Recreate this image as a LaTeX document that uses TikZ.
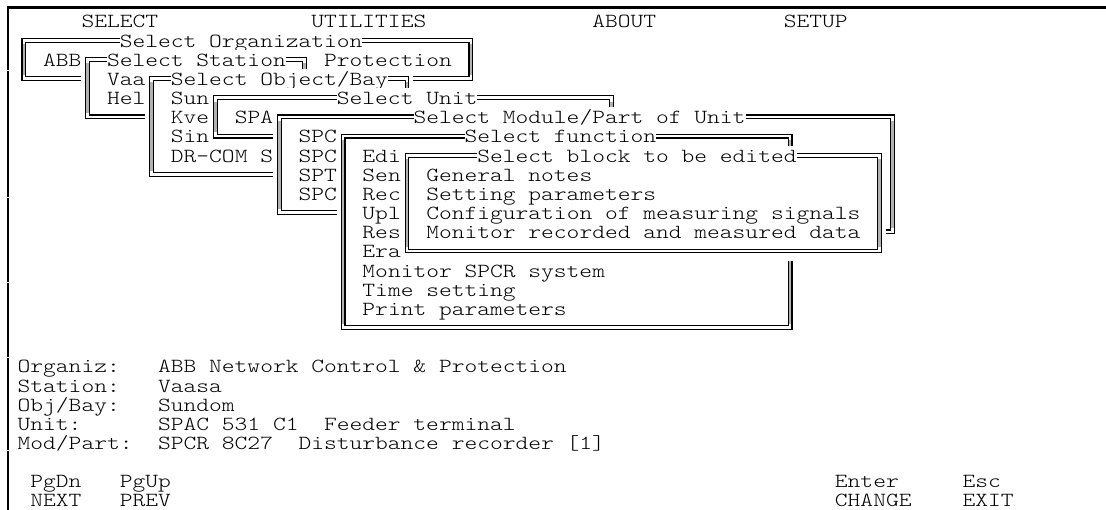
\documentclass[tikz,border=0pt]{standalone}
\usepackage{fontspec}
\newfontfamily\monofam{lmmonolt10-regular.otf}[FakeStretch=1.216]
\newcommand{\scrmono}{\monofam\fontsize{20pt}{24pt}\selectfont}
\frenchspacing

% text window: name, first col, last col, top row, bottom row, title col, title
\newcommand{\tuiwin}[7]{%
  \fill[white] (#2,#4-0.5) rectangle (#3+1,#5+0.5);
  \draw[win frame] (#2+0.5,#4) rectangle (#3+0.5,#5);
  \draw[win side] (#2+0.5,#4+0.2) -- (#2+0.5,#5-0.2);
  \draw[win side] (#3+0.5,#4+0.2) -- (#3+0.5,#5-0.2);
  \node[win title] (#1) at (#6,#4+0.36) {#7};
}

\begin{document}
\begin{tikzpicture}[
    x=12.77pt, y=-19.16pt,
    scr/.style={font=\scrmono, inner sep=0pt, anchor=base west},
    win frame/.style={double, double distance=2.6pt, line width=1.15pt},
    win side/.style={gray!60, line width=2.6pt},
    win title/.style={scr, fill=white, text height=12pt, text depth=4pt}
  ]
  \useasboundingbox (0pt,0pt) rectangle (1106pt,-510pt);

  % screen edge
  \coordinate (edgeBL) at (8pt,-510pt);
  \coordinate (edgeTL) at (8pt,-7.5pt);
  \coordinate (edgeTR) at (1106pt,-7.5pt);
  \draw[line width=2.6pt] (edgeBL) -- (edgeTL) -- (edgeTR);
  \foreach \g in {70,197,282,357,450}
    \fill[white] (6pt,-\g pt) rectangle ++(4pt,-1.5pt);

  \begin{scope}[shift={(4.7pt,-21.1pt)}]

    % menu bar
    \node[scr] (menuSelect) at (6,0.36) {SELECT};
    \node[scr] (menuUtil) at (24,0.36) {UTILITIES};
    \node[scr] (menuAbout) at (46,0.36) {ABOUT};
    \node[scr] (menuSetup) at (61,0.36) {SETUP};

    % stacked selection windows
    \tuiwin{org}{1}{36}{1}{3}{9}{Select Organization}
    \node[scr] (orgName) at (3,2.36) {ABB};
    \node[scr] (orgTail) at (25,2.36) {Protection};

    \tuiwin{station}{6}{23}{2}{5}{8}{Select Station}
    \node[scr] (stnA) at (8,3.36) {Vaa};
    \node[scr] (stnB) at (8,4.36) {Hel};

    \tuiwin{bay}{11}{31}{3}{8}{13}{Select Object/Bay}
    \foreach \t [count=\i from 4] in {Sun,Kve,Sin,DR-COM S}
      \node[scr] (bay\i) at (13,\i+0.36) {\t};

    \tuiwin{unit}{16}{47}{4}{6}{26}{Select Unit}
    \node[scr] (unitA) at (18,5.36) {SPA};

    % module window: right edge runs one row lower than the left one
    \fill[white] (21,4.5) rectangle (70,10.5);
    \fill[white] (69,10.5) rectangle (70,11.5);
    \draw[win frame] (30,10) -- (21.5,10) -- (21.5,5) -- (69.5,5) -- (69.5,11) -- (30,11);
    \draw[win side] (21.5,5.2) -- (21.5,9.8);
    \draw[win side] (69.5,5.2) -- (69.5,10.8);
    \node[win title] (module) at (32,5.36) {Select Module/Part of Unit};
    \foreach \t [count=\i from 6] in {SPC,SPC,SPT,SPC}
      \node[scr] (mod\i) at (23,\i+0.36) {\t};

    \tuiwin{func}{26}{61}{6}{16}{36}{Select function}
    \foreach \t [count=\i from 7] in {Edi,Sen,Rec,Upl,Res,Era,Monitor SPCR system,Time setting,Print parameters}
      \node[scr] (func\i) at (28,\i+0.36) {\t};

    \tuiwin{block}{31}{68}{7}{12}{37}{Select block to be edited}
    \foreach \t [count=\i from 8] in {General notes,Setting parameters,Configuration of measuring signals,Monitor recorded and measured data}
      \node[scr] (block\i) at (33,\i+0.36) {\t};

    % status lines
    \foreach \lab/\val [count=\i from 18] in {{Organiz:}/{ABB Network Control \& Protection},{Station:}/{Vaasa},{Obj/Bay:}/{Sundom},{Unit:}/{SPAC 531 C1~~Feeder terminal},{Mod/Part:}/{SPCR 8C27~~Disturbance recorder [1]}} {
      \node[scr] (lab\i) at (1,\i+0.36) {\lab};
      \node[scr] (val\i) at (12,\i+0.36) {\val};
    }

    % key line
    \node[scr] (keyDn) at (2,24.36) {PgDn};
    \node[scr] (keyUp) at (9,24.36) {PgUp};
    \node[scr] (keyEnter) at (65,24.36) {Enter};
    \node[scr] (keyEsc) at (75,24.36) {Esc};
    \node[scr] (actNext) at (2,25.36) {NEXT};
    \node[scr] (actPrev) at (9,25.36) {PREV};
    \node[scr] (actChange) at (65,25.36) {CHANGE};
    \node[scr] (actExit) at (75,25.36) {EXIT};

  \end{scope}
\end{tikzpicture}
\end{document}
